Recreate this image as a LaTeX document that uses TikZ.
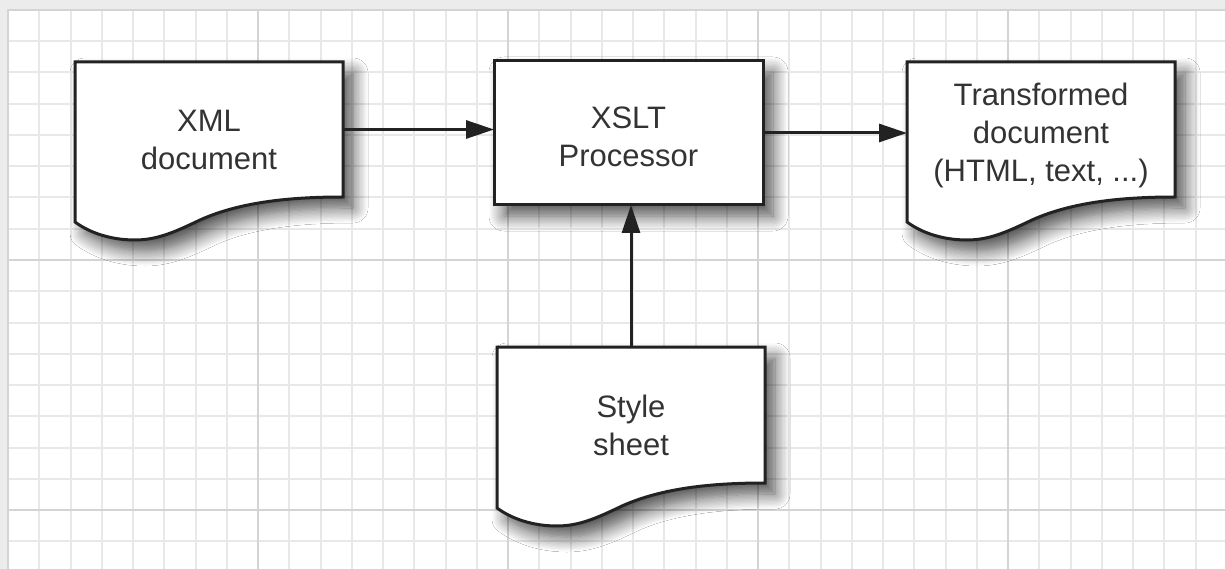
\documentclass[tikz,border=0pt]{standalone}
\usepackage{fontspec}
\setmainfont{Liberation Sans}
\usetikzlibrary{arrows.meta,calc,shadows.blur}
\definecolor{bgband}{HTML}{ECECEC}
\definecolor{minorline}{HTML}{E8E8E8}
\definecolor{majorline}{HTML}{D4D4D4}
\definecolor{inkline}{HTML}{222222}
\definecolor{inktext}{HTML}{333333}
\tikzset{
  boxline/.style={draw=inkline, line width=3pt, fill=white, line join=miter},
  softshadow/.style={blur shadow={shadow xshift=10pt, shadow yshift=-11pt, shadow blur radius=15pt, shadow blur steps=12, shadow opacity=70}},
  frame/.style={rectangle, inner sep=0pt, outer sep=0pt},
  lbl/.style={font=\fontsize{31}{38}\selectfont, text=inktext, align=center},
  conn/.style={line width=3pt, draw=inkline, -{Triangle[length=28pt,width=18pt]}},
}
\newcommand\docoutline[1]{%
  \draw[boxline, softshadow] (#1.north west) -- (#1.north east) -- (#1.south east)
    .. controls ($(#1.south west)+(215,0)$) and ($(#1.south west)+(165,5)$) .. ($(#1.south west)+(125,23)$)
    .. controls ($(#1.south west)+(100,35)$) and ($(#1.south west)+(82,43)$) .. ($(#1.south west)+(60,43)$)
    .. controls ($(#1.south west)+(36,43)$) and ($(#1.south west)+(15,36)$) .. ($(#1.south west)+(0,25)$)
    -- cycle;}
\begin{document}
\begin{tikzpicture}[x=1pt,y=-1pt]
\useasboundingbox (0,0) rectangle (1225,569);
% paper
\fill[bgband] (0,0) rectangle (1225,569);
\fill[white] (8,10) rectangle (1225,569);
% minor grid
\foreach \i in {1,...,39} {
  \draw[minorline, line width=2pt] ({8+31.25*\i},10) -- ({8+31.25*\i},569);
}
\foreach \j in {1,...,17} {
  \draw[minorline, line width=2pt] (8,{10+31.25*\j}) -- (1225,{10+31.25*\j});
}
% major grid
\foreach \i in {1,...,4} {
  \draw[majorline, line width=2.5pt] ({8+250*\i},10) -- ({8+250*\i},569);
}
\foreach \j in {1,2} {
  \draw[majorline, line width=2.5pt] (8,{10+250*\j}) -- (1225,{10+250*\j});
}
\draw[majorline, line width=2pt] (8,569) -- (8,10) -- (1225,10);

% frames
\node[frame, minimum width=268pt, minimum height=135pt] (xml) at (209,129.5) {};
\node[frame, minimum width=269pt, minimum height=144pt] (xslt) at (628.5,133) {};
\node[frame, minimum width=268pt, minimum height=135pt] (tdoc) at (1041,129.5) {};
\node[frame, minimum width=268pt, minimum height=136pt] (style) at (631,415) {};

% shapes
\docoutline{xml}
\docoutline{tdoc}
\docoutline{style}
\draw[boxline, softshadow] (xslt.north west) rectangle (xslt.south east);

% texts
\node[lbl] (xmltxt) at ($(xml.center)+(0,10)$) {XML\\document};
\node[lbl] (xslttxt) at ($(xslt.center)+(0,4)$) {XSLT\\Processor};
\node[lbl] (tdoctxt) at ($(tdoc.center)+(0,6)$) {Transformed\\document\\(HTML, text, ...)};
\node[lbl] (styletxt) at ($(style.center)+(0,10)$) {Style\\sheet};

% connectors
\draw[conn] (xml.east) -- (xml.east -| xslt.west);
\draw[conn] (xslt.east) -- (xslt.east -| tdoc.west);
\draw[conn] (style.north) -- (style.north |- xslt.south);
\end{tikzpicture}
\end{document}
